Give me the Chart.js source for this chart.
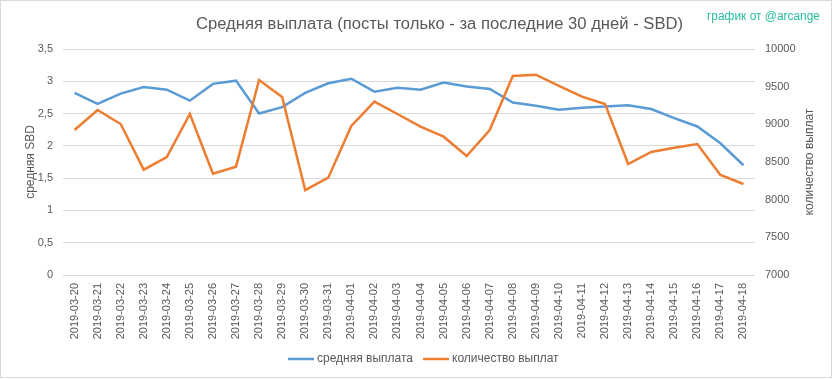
<!DOCTYPE html>
<html><head><meta charset="utf-8">
<script src="https://cdn.jsdelivr.net/npm/chart.js@4/dist/chart.umd.min.js"></script>
<style>html,body{margin:0;padding:0;background:#fff}#wrap{width:833px;height:379px;position:relative}canvas{display:block}</style>
</head><body><div id="wrap"><canvas id="c" width="833" height="379"></canvas></div>
<script>
const categories = ['2019-03-20','2019-03-21','2019-03-22','2019-03-23','2019-03-24','2019-03-25','2019-03-26','2019-03-27','2019-03-28','2019-03-29','2019-03-30','2019-03-31','2019-04-01','2019-04-02','2019-04-03','2019-04-04','2019-04-05','2019-04-06','2019-04-07','2019-04-08','2019-04-09','2019-04-10','2019-04-11','2019-04-12','2019-04-13','2019-04-14','2019-04-15','2019-04-16','2019-04-17','2019-04-18'];
const avgPayout = [2.82,2.65,2.81,2.91,2.87,2.70,2.96,3.01,2.50,2.60,2.82,2.97,3.04,2.84,2.90,2.87,2.98,2.92,2.88,2.67,2.62,2.56,2.59,2.61,2.63,2.57,2.43,2.30,2.04,1.70];
const payoutCount = [8925,9190,9004,8398,8566,9137,8345,8438,9588,9363,8128,8292,8978,9301,9137,8970,8836,8580,8925,9641,9659,9509,9367,9270,8473,8633,8690,8739,8327,8208];
const leftAxisRange = [0, 3.5, 0.5];
const rightAxisRange = [7000, 10000, 500];
const seriesNames = ['средняя выплата', 'количество выплат'];
const titleText = 'Средняя выплата (посты только - за последние 30 дней - SBD)';
const watermarkText = 'график от @arcange';
const leftAxisTitle = 'средняя SBD';
const rightAxisTitle = 'количество выплат';

const TXT = '#595959';
const BLUE = '#5B9BD5';
const ORANGE = '#ED7D31';
const GRID = '#D9D9D9';
const FONT = "'Liberation Sans', Arial, sans-serif";

const decor = {
  id: 'decor',
  afterDraw(chart) {
    const ctx = chart.ctx;
    ctx.save();
    ctx.strokeStyle = GRID; ctx.lineWidth = 1;
    ctx.strokeRect(0.5, 0.5, 831, 377);
    // title
    ctx.fillStyle = TXT;
    ctx.textBaseline = 'alphabetic';
    ctx.textAlign = 'left';
    ctx.font = "16px " + FONT;
    const w = ctx.measureText(titleText).width;
    ctx.save();
    ctx.translate(196, 29);
    ctx.scale(487 / w, 1);
    ctx.fillText(titleText, 0, 0);
    ctx.restore();
    // watermark
    ctx.fillStyle = '#27be9e';
    ctx.font = "12px " + FONT;
    const ww = ctx.measureText(watermarkText).width;
    ctx.save();
    ctx.translate(707, 19.5);
    ctx.scale(113 / ww, 1);
    ctx.fillText(watermarkText, 0, 0);
    ctx.restore();
    // right axis title
    ctx.fillStyle = TXT;
    ctx.font = "12px " + FONT;
    ctx.translate(810, 162);
    ctx.rotate(-Math.PI / 2);
    ctx.textAlign = 'center';
    ctx.textBaseline = 'middle';
    ctx.fillText(rightAxisTitle, 0, 0);
    ctx.restore();
    // legend
    ctx.save();
    ctx.font = "12px " + FONT;
    ctx.textBaseline = 'middle';
    ctx.textAlign = 'left';
    const starts = [288, 423];
    chart.data.datasets.forEach((ds, i) => {
      const x = starts[i];
      ctx.strokeStyle = ds.borderColor; ctx.lineWidth = 2.5;
      ctx.beginPath(); ctx.moveTo(x, 359); ctx.lineTo(x + 26, 359); ctx.stroke();
      ctx.fillStyle = TXT;
      ctx.fillText(ds.label, x + 29, 359);
    });
    ctx.restore();
  }
};

new Chart(document.getElementById('c'), {
  type: 'line',
  data: {
    labels: categories,
    datasets: [
      { label: seriesNames[0], data: avgPayout, yAxisID: 'y', borderColor: BLUE, backgroundColor: BLUE, borderWidth: 2.5, pointRadius: 0, tension: 0, order: 1 },
      { label: seriesNames[1], data: payoutCount, yAxisID: 'y1', borderColor: ORANGE, backgroundColor: ORANGE, borderWidth: 2.5, pointRadius: 0, tension: 0, order: 0 }
    ]
  },
  options: {
    responsive: false,
    devicePixelRatio: 1,
    animation: false,
    layout: { padding: { top: 49, left: 0, right: 0, bottom: 0 } },
    plugins: { legend: { display: false }, title: { display: false }, tooltip: { enabled: false } },
    scales: {
      x: {
        offset: true,
        grid: { display: false, drawTicks: false },
        border: { display: false },
        ticks: { autoSkip: false, minRotation: 90, maxRotation: 90, padding: 8, color: TXT, font: { family: FONT, size: 11 } },
        afterFit(s) { s.height = 104; }
      },
      y: {
        position: 'left',
        min: leftAxisRange[0], max: leftAxisRange[1],
        grid: { color: GRID, drawTicks: false, lineWidth: 1 },
        border: { display: false },
        ticks: { stepSize: leftAxisRange[2], padding: 10, color: TXT, font: { family: FONT, size: 11 },
          callback: v => String(v).replace('.', ',') },
        title: { display: true, text: leftAxisTitle, color: TXT, font: { family: FONT, size: 12 }, padding: { top: 23, bottom: 0 } },
        afterFit(s) { s.width = 63; }
      },
      y1: {
        position: 'right',
        min: rightAxisRange[0], max: rightAxisRange[1],
        grid: { drawOnChartArea: false, drawTicks: false },
        border: { display: false },
        ticks: { stepSize: rightAxisRange[2], padding: 10, color: TXT, font: { family: FONT, size: 11 },
          callback: v => String(v) },
        afterFit(s) { s.width = 78; }
      }
    }
  },
  plugins: [decor]
});
</script>
</body></html>
